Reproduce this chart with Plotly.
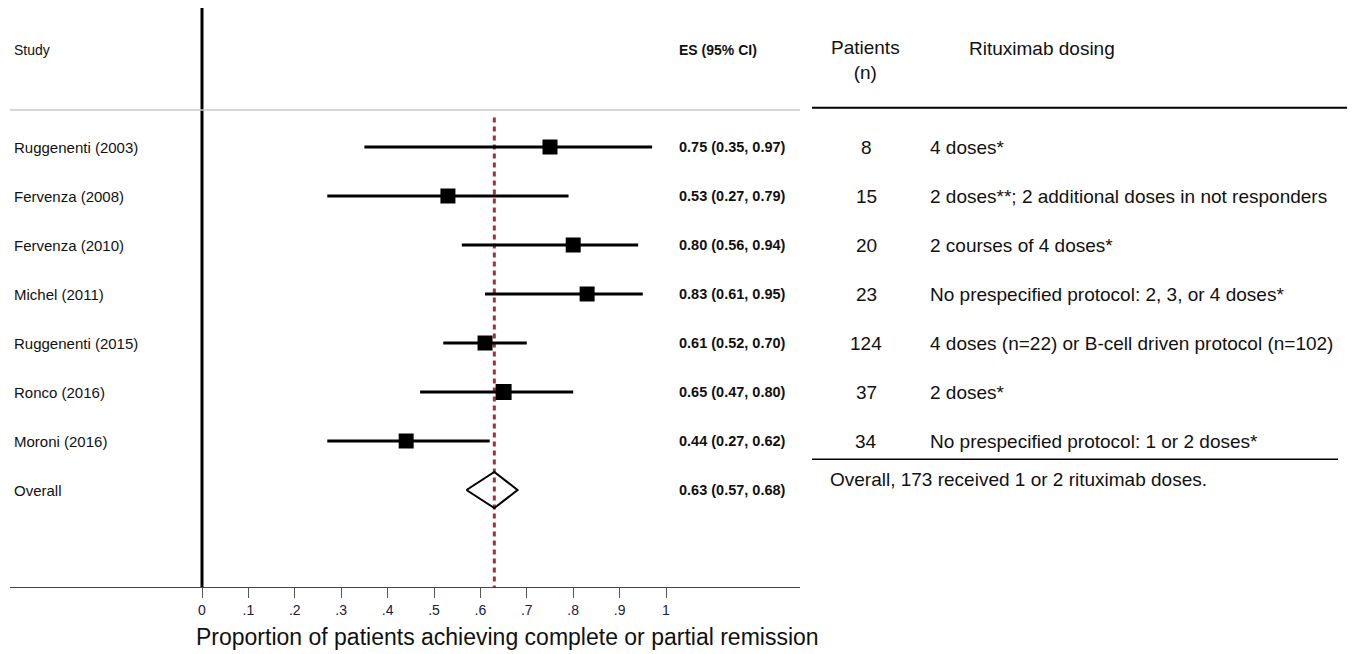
import plotly.graph_objects as go

studies = ["Ruggenenti (2003)", "Fervenza (2008)", "Fervenza (2010)", "Michel (2011)",
           "Ruggenenti (2015)", "Ronco (2016)", "Moroni (2016)"]
es = [0.75, 0.53, 0.80, 0.83, 0.61, 0.65, 0.44]
lo = [0.35, 0.27, 0.56, 0.61, 0.52, 0.47, 0.27]
hi = [0.97, 0.79, 0.94, 0.95, 0.70, 0.80, 0.62]
box_size = [15, 15, 15, 15, 15, 16, 15]
overall = (0.63, 0.57, 0.68)
patients = ["8", "15", "20", "23", "124", "37", "34"]
dosing = ["4 doses*",
          "2 doses**; 2 additional doses in not responders",
          "2 courses of 4 doses*",
          "No prespecified protocol: 2, 3, or 4 doses*",
          "4 doses (n=22) or B-cell driven protocol (n=102)",
          "2 doses*",
          "No prespecified protocol: 1 or 2 doses*"]
tick_vals = [0, .1, .2, .3, .4, .5, .6, .7, .8, .9, 1]
tick_text = ["0", ".1", ".2", ".3", ".4", ".5", ".6", ".7", ".8", ".9", "1"]

OFF = 8  # page body margin
W, H = 1355 - OFF, 654 - OFF
FONT = "Arial, Liberation Sans, sans-serif"
TXT = "#111"


def px(x):
    return (x - OFF) / W


def py(y):
    return 1 - (y - OFF) / H


rows = list(range(len(studies)))
ov_row = len(studies)

fig = go.Figure()

for i in rows:
    fig.add_trace(go.Scatter(x=[lo[i], hi[i]], y=[i, i], mode="lines",
                             line=dict(color="black", width=3), showlegend=False,
                             hoverinfo="skip"))
fig.add_trace(go.Scatter(x=es, y=rows, mode="markers",
                         marker=dict(symbol="square", size=box_size, color="black",
                                     opacity=1, line=dict(width=0)),
                         showlegend=False))
fig.add_trace(go.Scatter(x=[overall[1], overall[0], overall[2], overall[0], overall[1]],
                         y=[ov_row, ov_row - 0.37, ov_row, ov_row + 0.37, ov_row],
                         mode="lines", line=dict(color="black", width=2),
                         showlegend=False))

shapes = []
shapes.append(dict(type="line", xref="x", yref="paper", x0=0, x1=0,
                   y0=py(587), y1=py(8), line=dict(color="black", width=3)))
shapes.append(dict(type="line", xref="paper", yref="y", x0=px(10), x1=px(800),
                   y0=-0.755, y1=-0.755, line=dict(color="#c8c8c8", width=1.5)))
shapes.append(dict(type="line", xref="x", yref="y", x0=overall[0], x1=overall[0],
                   y0=-0.6, y1=8.98, layer="below",
                   line=dict(color="#a0333a", width=3, dash="5px,4px")))
shapes.append(dict(type="line", xref="paper", yref="y", x0=px(812), x1=px(1352),
                   y0=-0.8, y1=-0.8, line=dict(color="black", width=2)))
shapes.append(dict(type="line", xref="paper", yref="y", x0=px(812), x1=px(1338),
                   y0=6.37, y1=6.37, line=dict(color="black", width=1.5)))

ann = []


def add(text, x, y, size, anchor="left", yref="y", bold=False):
    ann.append(dict(text=("<b>%s</b>" % text) if bold else text, xref="paper", yref=yref,
                    x=px(x), y=y, xanchor=anchor, yanchor="middle", showarrow=False,
                    align="center", font=dict(size=size, family=FONT, color=TXT)))


add("Study", 12, -1.98, 14)
add("ES (95% CI)", 677, -1.98, 14, bold=True)
add("Patients<br>(n)", 865, -1.77, 19, anchor="center")
add("Rituximab dosing", 967, -2.02, 19)
for i in rows:
    add(studies[i], 12, i, 15)
    add("%.2f (%.2f, %.2f)" % (es[i], lo[i], hi[i]), 677, i, 14.5, bold=True)
    add(patients[i], 866, i, 19, anchor="center")
    add(dosing[i], 928, i, 19)
add("Overall", 12, ov_row, 15)
add("%.2f (%.2f, %.2f)" % overall, 677, ov_row, 14.5, bold=True)
add("Overall, 173 received 1 or 2 rituximab doses.", 828, 6.78, 19)
add("Proportion of patients achieving complete or partial remission", 507, py(637), 23,
    anchor="center", yref="paper")

fig.update_layout(
    width=W, height=H, margin=dict(l=0, r=0, t=0, b=0),
    paper_bgcolor="white", plot_bgcolor="white",
    shapes=shapes, annotations=ann, showlegend=False,
    xaxis=dict(domain=[px(10), px(800)], range=[(10 - 202) / 464, (800 - 202) / 464],
               tickvals=tick_vals, ticktext=tick_text, ticks="outside", ticklen=10,
               tickcolor="#555", tickwidth=1, showline=True, linecolor="#444", linewidth=1,
               showgrid=False, zeroline=False,
               tickfont=dict(size=14, family=FONT, color="#1a2040")),
    yaxis=dict(domain=[py(587), py(8)], range=[(587 - 147) / 49, (8 - 147) / 49],
               showticklabels=False, showgrid=False, zeroline=False, showline=False, ticks=""),
)

fig.write_html("out.html")
